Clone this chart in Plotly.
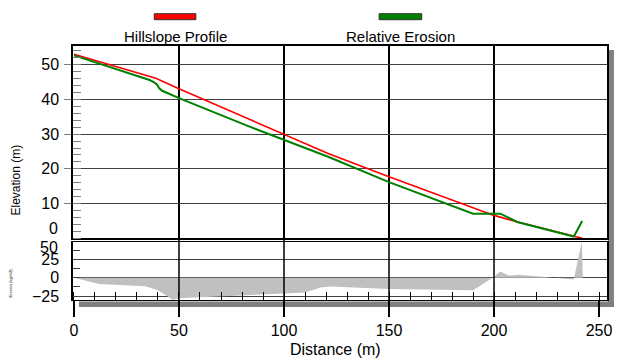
import plotly.graph_objects as go

# ---------------- data ----------------
profile_distance = [0, 31, 39, 50, 83, 121, 150, 190, 200, 210, 238, 242]
profile_elevation = [53.0, 47.6, 46.1, 43.1, 34.3, 24.4, 17.7, 9.0, 6.6, 4.9, 0.6, 0.0]

eroded_distance = [0, 31, 36, 38, 39.5, 40.5, 42, 50, 83, 121, 150, 190, 203, 211, 238, 242]
eroded_elevation = [52.7, 46.7, 45.6, 45.0, 44.3, 43.3, 42.5, 40.4, 32.3, 23.5, 16.2, 7.1, 7.1, 4.7, 0.5, 5.0]

erosion_distance = [0, 12, 34, 40, 47, 50, 100, 110, 118, 122, 150, 190, 199.4, 203, 207, 212, 238, 241.8, 242.3]
erosion_value = [0, -8.4, -11.6, -17, -30, -28, -21.3, -20, -13, -12, -15.5, -17.2, 0, 8.4, 3, 3.9, -2.3, 49, 0]

x_tick_values = [0, 50, 100, 150, 200, 250]
x_grid_values = [50, 100, 150, 200]
upper_tick_values = [10, 20, 30, 40, 50]
lower_tick_values = [-25, 0, 25]

series_names = ["Hillslope Profile", "Relative Erosion"]
series_colors = ["#ff0000", "#008000"]

FONT = "Liberation Sans, Arial, sans-serif"
NARROW = "Liberation Sans Narrow, Arial Narrow, Liberation Sans, sans-serif"

# pixel helpers for decoration placement (plot area: x 73..612, y 46..300)
L, R, T, B = 73, 612, 46, 300
def px(xp):
    return (xp - L) / (R - L)
def py(yp):
    return (B - yp) / (B - T)

X_RANGE = [-0.47, 253.8]

fig = go.Figure()
fig.add_trace(go.Scatter(x=erosion_distance, y=erosion_value, mode="lines",
                         fill="tozeroy", fillcolor="#c0c0c0",
                         line=dict(width=0, color="#c0c0c0"),
                         xaxis="x2", yaxis="y2", showlegend=False, hoverinfo="skip"))
fig.add_trace(go.Scatter(x=profile_distance, y=profile_elevation, mode="lines",
                         line=dict(color=series_colors[0], width=1.6),
                         name=series_names[0], showlegend=False))
fig.add_trace(go.Scatter(x=eroded_distance, y=eroded_elevation, mode="lines",
                         line=dict(color=series_colors[1], width=2),
                         name=series_names[1], showlegend=False))

upper_bottom = py(238.3)
lower_top = py(241.8)

fig.update_layout(
    width=619, height=361,
    margin=dict(l=L, r=619 - R, t=T, b=361 - B),
    paper_bgcolor="white", plot_bgcolor="white",
    font=dict(family=FONT, size=16, color="black"),
    showlegend=False,
    xaxis=dict(domain=[0, 1], anchor="y", range=X_RANGE,
               tickvals=x_grid_values, showticklabels=False, ticks="",
               showgrid=True, gridcolor="black", gridwidth=1.5,
               showline=True, linecolor="black", linewidth=1.6, mirror=True,
               zeroline=False),
    yaxis=dict(domain=[upper_bottom, 1], range=[0, 55.4],
               tickvals=upper_tick_values, ticks="outside", ticklen=7,
               tickcolor="#808080", tickwidth=1.2, ticklabelstandoff=2,
               tickfont=dict(size=16, family=FONT),
               showgrid=True, gridcolor="#404040", gridwidth=1,
               showline=True, linecolor="black", linewidth=1.5, mirror=True,
               zeroline=False,
               minor=dict(ticks="inside", dtick=2, tick0=0, ticklen=8,
                          tickcolor="#808080", tickwidth=1.2, showgrid=False)),
    xaxis2=dict(domain=[0, 1], anchor="y2", range=X_RANGE,
                tickvals=x_tick_values, ticks="outside", ticklen=16,
                tickcolor="black", tickwidth=1.5,
                tickfont=dict(size=16, family=FONT),
                showgrid=False, showline=True, linecolor="black",
                linewidth=1.2, mirror=True, zeroline=False,
                minor=dict(ticks="inside", dtick=10, tick0=0, ticklen=8,
                           tickcolor="black", tickwidth=1.2, showgrid=False)),
    yaxis2=dict(domain=[0, lower_top], range=[-30.3, 48.9],
                tickvals=lower_tick_values, ticks="", ticklabelstandoff=9,
                tickfont=dict(size=16, family=FONT),
                showgrid=True, gridcolor="#404040", gridwidth=1,
                showline=True, linecolor="black", linewidth=1.5, mirror=True,
                zeroline=False,
                minor=dict(ticks="inside", dtick=12.5, tick0=0, ticklen=7,
                           tickcolor="#404040", tickwidth=1.2, showgrid=False)),
)

shapes = []
# vertical grid lines through the lower panel and the gap
for v in x_grid_values:
    shapes.append(dict(type="line", xref="x2", yref="paper", x0=v, x1=v,
                       y0=0, y1=upper_bottom, line=dict(color="black", width=1.5),
                       layer="above"))
# drop shadows
shapes.append(dict(type="rect", xref="paper", yref="paper",
                   x0=px(613), x1=px(619), y0=py(307), y1=py(50),
                   fillcolor="#808080", line=dict(width=0), layer="below"))
shapes.append(dict(type="rect", xref="paper", yref="paper",
                   x0=px(79), x1=px(619), y0=py(307), y1=py(301.5),
                   fillcolor="#808080", line=dict(width=0), layer="below"))
# legend swatches
legend_x = [(155, 197), (382, 425)]
for (x0, x1), c in zip(legend_x, series_colors):
    shapes.append(dict(type="rect", xref="paper", yref="paper",
                       x0=px(x0), x1=px(x1), y0=py(19.7), y1=py(13.7),
                       fillcolor=c, line=dict(color="#303030", width=1)))
fig.update_layout(shapes=shapes)

annotations = []
legend_text_x = [176, 403.5]
for name, xc in zip(series_names, legend_text_x):
    annotations.append(dict(text=name, xref="paper", yref="paper",
                            x=px(xc), y=py(36), xanchor="center", yanchor="middle",
                            showarrow=False, font=dict(size=15, family=FONT)))
# shifted tick labels
annotations.append(dict(text="0", xref="paper", yref="paper", x=px(60), y=py(228),
                        xanchor="right", yanchor="middle", showarrow=False,
                        font=dict(size=16, family=FONT)))
annotations.append(dict(text="50", xref="paper", yref="paper", x=px(60), y=py(247.5),
                        xanchor="right", yanchor="middle", showarrow=False,
                        font=dict(size=16, family=FONT)))
# axis titles
annotations.append(dict(text="Elevation (m)", xref="paper", yref="paper",
                        x=px(15), y=py(180), xanchor="center", yanchor="middle",
                        textangle=-90, showarrow=False, font=dict(size=12, family=NARROW)))
annotations.append(dict(text="Erosion (kg/m2)", xref="paper", yref="paper",
                        x=px(9), y=py(283), xanchor="center", yanchor="middle",
                        textangle=-90, showarrow=False, font=dict(size=4, family=NARROW)))
annotations.append(dict(text="Distance (m)", xref="paper", yref="paper",
                        x=px(338), y=py(349), xanchor="center", yanchor="middle",
                        showarrow=False, font=dict(size=16, family=FONT)))
fig.update_layout(annotations=annotations)

fig.write_html("out.html", config={"displayModeBar": False},
               post_script="document.body.style.margin='0';document.body.style.overflow='hidden';")
